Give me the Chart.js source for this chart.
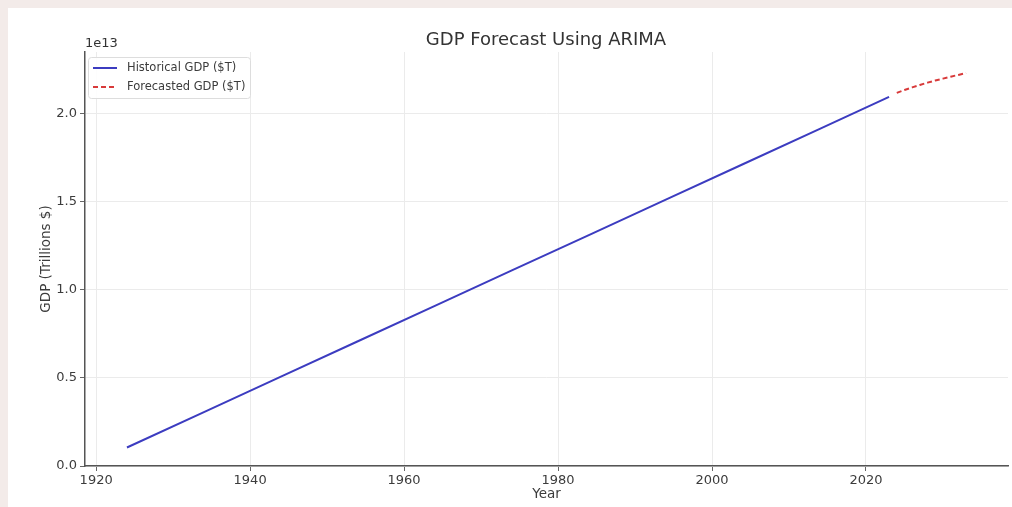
<!DOCTYPE html>
<html lang="en">
<head>
    <meta charset="UTF-8">
    <title>GDP Forecast Using ARIMA</title>
    <script src="https://cdn.jsdelivr.net/npm/chart.js"></script>
</head>
<style>
body{
    margin: 0;
    background: #f3ebe9;
    overflow: hidden;
}
#paper{
    position: absolute;
    left: 8px;
    top: 8px;
    width: 1004px;
    height: 499px;
    background: #ffffff;
}
#gdpChart{
    position: absolute;
    left: 0;
    top: 0;
}
</style>
<body>
    <div id="paper"></div>
    <canvas id="gdpChart" width="1012" height="507"></canvas>
<script>
    // historical GDP (dollars)
    var histYears = [1924, 1934, 1944, 1954, 1964, 1974, 1984, 1994, 2004, 2014, 2023];
    var histGdp = [1.05e12, 3.06e12, 5.07e12, 7.08e12, 9.09e12, 1.110e13, 1.311e13, 1.512e13, 1.713e13, 1.914e13, 2.095e13];

    // ARIMA forecast, red dashed line
    var fcYears = [2024, 2025, 2026, 2027, 2028, 2029, 2030, 2031, 2032, 2033];
    var fcGdp = [2.118e13, 2.134e13, 2.149e13, 2.163e13, 2.176e13, 2.188e13, 2.199e13, 2.210e13, 2.220e13, 2.230e13];

    var xTicks = [1920, 1940, 1960, 1980, 2000, 2020];
    var yTicks = [0, 0.5e13, 1.0e13, 1.5e13, 2.0e13];

    var seriesNames = ['Historical GDP ($T)', 'Forecasted GDP ($T)'];
    var blue = '#3c3cc0';
    var red = '#d83a3a';
    var textColor = '#3c3c3c';
    var fontFamily = '"DejaVu Sans", sans-serif';

    function toPoints(xs, ys) {
        return xs.map(function (x, i) { return {x: x, y: ys[i]}; });
    }

    // title, offset label and the legend box, drawn like matplotlib does
    var extrasPlugin = {
        id: 'extras',
        afterDraw: function (chart) {
            var ctx = chart.ctx;
            var area = chart.chartArea;
            ctx.save();

            ctx.fillStyle = '#333333';
            ctx.font = '18px ' + fontFamily;
            ctx.textAlign = 'center';
            ctx.textBaseline = 'middle';
            ctx.fillText('GDP Forecast Using ARIMA', 546, 40);

            ctx.font = '13px ' + fontFamily;
            ctx.textAlign = 'left';
            ctx.fillText('1e13', area.left, 44);

            // legend
            var bx = area.left + 3, by = area.top + 5, bw = 162, bh = 41;
            ctx.fillStyle = 'rgba(255,255,255,0.9)';
            ctx.strokeStyle = '#dddddd';
            ctx.lineWidth = 1;
            ctx.beginPath();
            ctx.roundRect(bx + 0.5, by + 0.5, bw, bh, 3);
            ctx.fill();
            ctx.stroke();

            chart.data.datasets.forEach(function (ds, i) {
                var ly = by + 11 + i * 19;
                ctx.strokeStyle = ds.borderColor;
                ctx.lineWidth = 2;
                ctx.setLineDash(ds.borderDash || []);
                ctx.beginPath();
                ctx.moveTo(bx + 5, ly);
                ctx.lineTo(bx + 29, ly);
                ctx.stroke();
                ctx.setLineDash([]);
                ctx.fillStyle = textColor;
                ctx.font = '11.5px ' + fontFamily;
                ctx.textBaseline = 'middle';
                ctx.fillText(ds.label, bx + 39, ly);
            });
            ctx.restore();
        }
    };

    var ctx = document.getElementById('gdpChart').getContext('2d');
    window.myChart = new Chart(ctx, {
        type: 'line',
        data: {
            datasets: [{
                label: seriesNames[0],
                data: toPoints(histYears, histGdp),
                borderColor: blue,
                borderWidth: 2,
                pointRadius: 0,
                fill: false
            }, {
                label: seriesNames[1],
                data: toPoints(fcYears, fcGdp),
                borderColor: red,
                borderWidth: 2,
                borderDash: [5, 3],
                pointRadius: 0,
                fill: false
            }]
        },
        options: {
            responsive: false,
            animation: false,
            layout: {
                padding: {left: 0, right: 4, top: 52, bottom: 0}
            },
            plugins: {
                legend: {display: false},
                title: {display: false},
                tooltip: {enabled: false}
            },
            scales: {
                x: {
                    type: 'linear',
                    min: 1918.55,
                    max: 2038.45,
                    afterBuildTicks: function (scale) {
                        scale.ticks = xTicks.map(function (v) { return {value: v}; });
                    },
                    afterFit: function (scale) { scale.height = 41; },
                    ticks: {
                        color: textColor,
                        padding: 2,
                        maxRotation: 0,
                        font: {family: fontFamily, size: 13},
                        callback: function (v) { return String(v); }
                    },
                    grid: {color: '#ebebeb', tickLength: 5, tickColor: '#666666'},
                    border: {color: '#555555', width: 1.5},
                    title: {
                        display: true,
                        text: 'Year',
                        color: textColor,
                        font: {family: fontFamily, size: 13.5},
                        padding: {top: 0, bottom: 4}
                    }
                },
                y: {
                    type: 'linear',
                    min: 0,
                    max: 2.35e13,
                    afterBuildTicks: function (scale) {
                        scale.ticks = yTicks.map(function (v) { return {value: v}; });
                    },
                    afterFit: function (scale) { scale.width = 85; },
                    ticks: {
                        color: textColor,
                        padding: 3,
                        font: {family: fontFamily, size: 13},
                        callback: function (v) { return (v / 1e13).toFixed(1); }
                    },
                    grid: {color: '#ebebeb', tickLength: 5, tickColor: '#666666'},
                    border: {color: '#555555', width: 1.5},
                    title: {
                        display: true,
                        text: 'GDP (Trillions $)',
                        color: textColor,
                        font: {family: fontFamily, size: 13.5},
                        padding: {top: 38, bottom: 0}
                    }
                }
            }
        },
        plugins: [extrasPlugin]
    });
</script>
</body>
</html>
